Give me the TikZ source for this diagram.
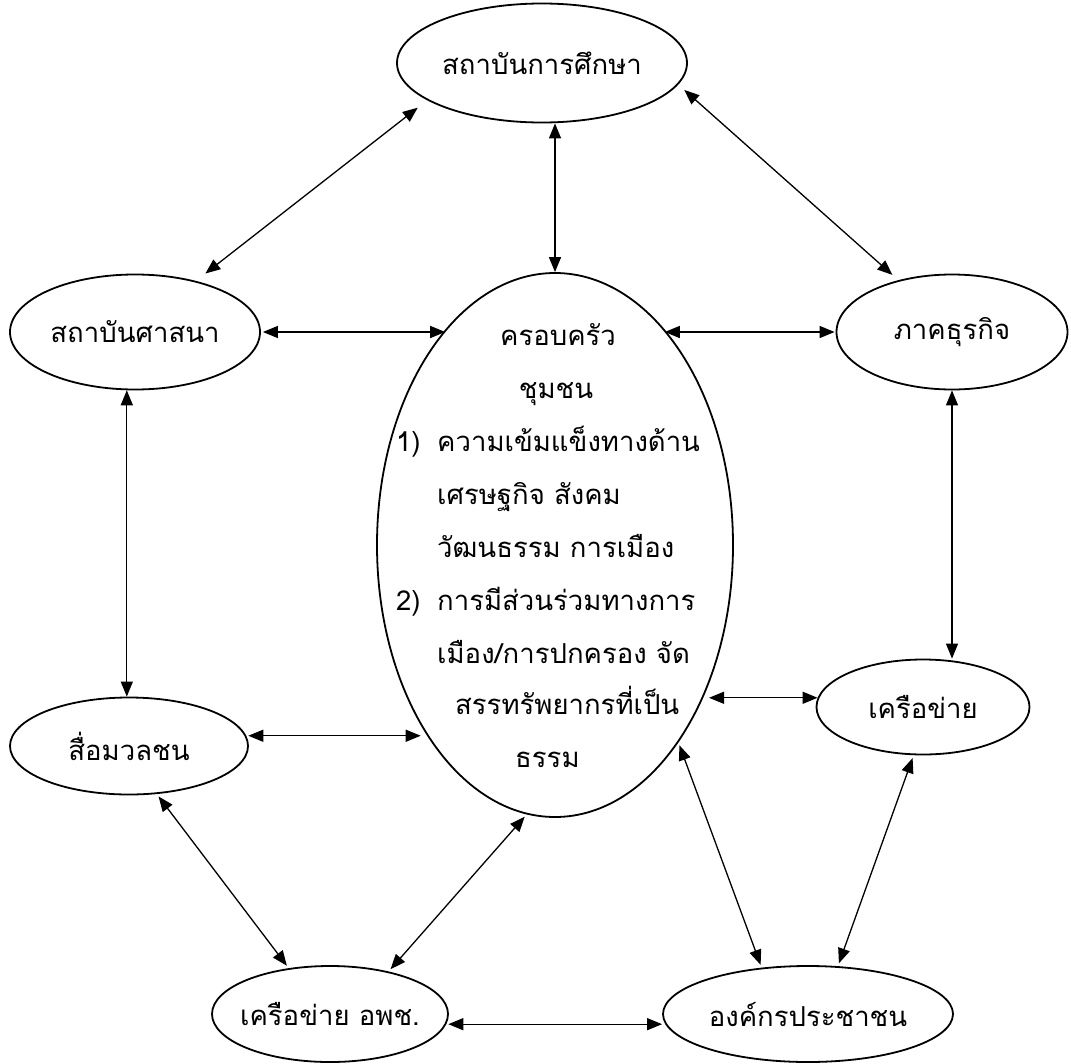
\documentclass[tikz,border=0pt]{standalone}
\usepackage{fontspec}
\newfontfamily\thaifont[Script=Thai]{Loma}
\usetikzlibrary{shapes.geometric,arrows.meta}
\newcommand\zbox[1]{\makebox[0pt]{#1}}
\begin{document}
\begin{tikzpicture}[x=1pt,y=-1pt,
  lbl/.style={font=\thaifont\fontsize{27.5}{32}\selectfont},
  ell/.style={draw, ellipse, line width=1.8pt, inner sep=0pt, lbl},
  arr/.style={{Triangle[length=15pt,width=12pt]}-{Triangle[length=15pt,width=12pt]}, line width=1.3pt},
  txt/.style={anchor=base west, inner sep=0pt, lbl},
  ctxt/.style={anchor=base, inner sep=0pt, lbl}]
\useasboundingbox (0,0) rectangle (1071,1063);
\node[ell, minimum width=290pt, minimum height=119pt] (T) at (542,63) {\zbox{สถาบันการศึกษา}};
\node[ell, minimum width=250pt, minimum height=115pt] (L) at (135,332) {\zbox{สถาบันศาสนา}};
\node[ell, minimum width=231pt, minimum height=115pt] (R) at (952,332) {\zbox{ภาคธุรกิจ}};
\node[ell, minimum width=356pt, minimum height=544pt] (C) at (555,545) {};
\node[ell, minimum width=238pt, minimum height=97pt] (M) at (129,746) {\zbox{สื่อมวลชน}};
\node[ell, minimum width=213pt, minimum height=95pt] (N) at (923,707) {\zbox{เครือข่าย}};
\node[ell, minimum width=236pt, minimum height=96pt] (A) at (330,1014) {\zbox{เครือข่าย อพช.}};
\node[ell, minimum width=290pt, minimum height=96pt] (O) at (808,1014) {\zbox{องค์กรประชาชน}};
% centre text
\node[ctxt] (c1) at (558,345) {ครอบครัว};
\node[ctxt] (c2) at (556,398) {ชุมชน};
\node[txt] (n1) at (396,451) {1)};
\node[txt] (c3) at (437,451) {ความเข้มแข็งทางด้าน};
\node[txt] (c4) at (437,504) {เศรษฐกิจ สังคม};
\node[txt] (c5) at (437,557) {วัฒนธรรม การเมือง};
\node[txt] (n2) at (396,610) {2)};
\node[txt] (c6) at (437,610) {การมีส่วนร่วมทางการ};
\node[txt] (c7) at (437,663) {เมือง/การปกครอง จัด};
\node[txt] (c8) at (455,714) {สรรทรัพยากรที่เป็น};
\node[txt] (c9) at (515,767) {ธรรม};
% connectors
\draw[arr, shorten <=12pt, shorten >=12pt] (L.40) -- (T.198);
\draw[arr] (C.north |- T.south) -- (C.north);
\draw[arr, shorten <=8pt, shorten >=8pt] (T.-9) -- (R.136);
\draw[arr, shorten <=2pt] (L.east) -- (L.east -| C.117);
\draw[arr, shorten >=1pt] (R.west -| C.63) -- (R.west);
\draw[arr] (L.262) -- (L.262 |- M.north);
\draw[arr] (R.south) -- (R.south |- N.north);
\draw[arr, shorten <=2pt, shorten >=6pt] (M.5) -- (M.5 -| C.236);
\draw[arr, shorten <=6pt] (N.175 -| C.-46) -- (N.175);
\draw[arr, shorten <=3pt, shorten >=3pt] (M.-60) -- (A.132);
\draw[arr, shorten <=3pt, shorten >=3pt] (A.36) -- (C.264);
\draw[arr, shorten <=3pt, shorten >=3pt] (C.-58) -- (O.135);
\draw[arr, shorten <=3pt, shorten >=3pt] (N.259) -- (O.58);
\draw[arr, shorten <=2pt] (A.-5) -- (A.-5 -| O.west);
\end{tikzpicture}
\end{document}
